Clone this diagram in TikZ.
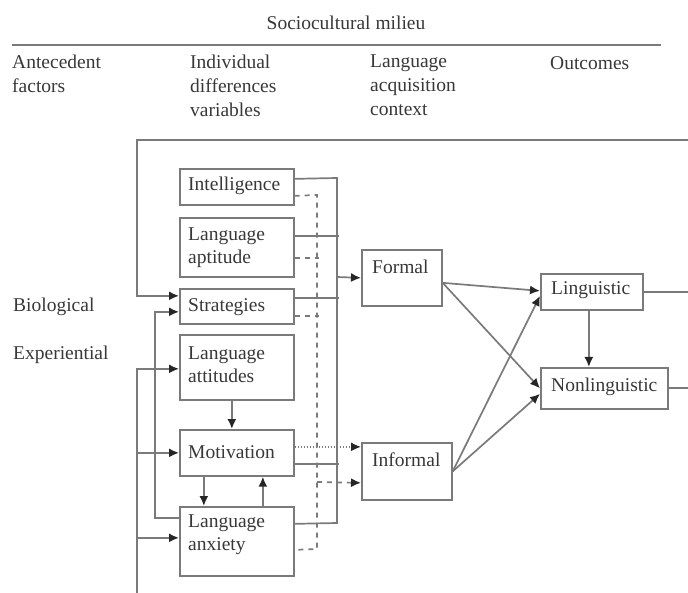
\documentclass[tikz,border=0pt]{standalone}
\usepackage{fontspec}
\setmainfont{Liberation Serif}
\usetikzlibrary{arrows.meta}
\begin{document}
\begin{tikzpicture}[x=1pt,y=-1pt,
  every node/.style={text=black!78, font=\fontsize{19.5}{23}\selectfont},
  ln/.style={draw=black!52, line width=1.7pt},
  bx/.style={draw=black!52, line width=1.7pt, inner sep=0pt, anchor=north west},
  tx/.style={inner sep=0pt, anchor=west},
  mtx/.style={inner sep=0pt, anchor=north west, align=left},
  htx/.style={inner sep=0pt, anchor=north west, align=left, font=\fontsize{19.5}{24}\selectfont},
  arr/.style={ln, -{Latex[length=10pt,width=9pt,fill=black!85,color=black!85]}},
  dsh/.style={ln, dash pattern=on 5pt off 5pt},
  dotl/.style={ln, dash pattern=on 1.5pt off 1.5pt},
]
\useasboundingbox (0,0) rectangle (688,593);

% header
\node[inner sep=0pt] (title) at (346,23) {Sociocultural milieu};
\coordinate (rL) at (12,45);
\coordinate (rR) at (661,45);
\draw[ln] (rL) -- (rR);
\node[htx] (antT) at (12,54.5) {Antecedent\\factors};
\node[htx] (idvT) at (190,54.5) {Individual\\differences\\variables};
\node[htx] (lacT) at (370,54.5) {Language\\acquisition\\context};
\node[tx] (outT) at (550,63) {Outcomes};

% left labels
\node[tx] (bioT) at (13,307) {Biological};
\node[tx] (expT) at (13,355) {Experiential};

% boxes
\node[bx, minimum width=114pt, minimum height=36pt] (intel) at (179,168) {};
\node[bx, minimum width=114pt, minimum height=59pt] (apt) at (179,217) {};
\node[bx, minimum width=114pt, minimum height=35pt] (strat) at (179,288) {};
\node[bx, minimum width=114pt, minimum height=65pt] (attit) at (179,334) {};
\node[bx, minimum width=114pt, minimum height=46pt] (motiv) at (179,429) {};
\node[bx, minimum width=114pt, minimum height=69pt] (anx) at (179,506) {};
\node[bx, minimum width=80pt, minimum height=56pt] (formal) at (361,249) {};
\node[bx, minimum width=90pt, minimum height=57pt] (informal) at (361,442) {};
\node[bx, minimum width=102pt, minimum height=36pt] (ling) at (540,273) {};
\node[bx, minimum width=127pt, minimum height=41pt] (nonling) at (540,367) {};

% box texts
\node[tx] (intelT) at (188,186) {Intelligence};
\node[mtx] (aptT) at (188,227.5) {Language\\aptitude};
\node[tx] (stratT) at (188,307) {Strategies};
\node[mtx] (attitT) at (188,346.5) {Language\\attitudes};
\node[tx] (motivT) at (188,452) {Motivation};
\node[mtx] (anxT) at (188,514.5) {Language\\anxiety};
\node[tx] (formalT) at (372,267) {Formal};
\node[tx] (informalT) at (372,460) {Informal};
\node[tx] (lingT) at (551,290) {Linguistic};
\node[tx] (nonlingT) at (551,387) {Nonlinguistic};

% outer frame feedback
\coordinate (frR) at (688,140);
\coordinate (frL) at (137,140);
\draw[arr] (frR) -- (frL) |- ([yshift=10.5pt]strat.west);

% anxiety -> strategies
\draw[arr] ([yshift=23.5pt]anx.west) -- ++(-24,0) |- ([yshift=-5.5pt]strat.west);

% lower outer bus
\coordinate (botL) at (137,593);
\draw[arr] (botL) |- ([yshift=-1.5pt]attit.west);
\draw[arr] (botL) |- (motiv.west);
\draw[arr] (botL) |- ([yshift=3.5pt]anx.west);

% solid collection bus
\coordinate (bsTop) at (337,178);
\coordinate (bsBot) at (337,523);
\coordinate (bsF) at (337,277);
\draw[ln] ([yshift=8pt]intel.east) -- (bsTop) -- (bsBot) -- ([yshift=17.5pt]anx.east);
\draw[ln] ([yshift=11.5pt]apt.east) -- ++(44,0);
\draw[ln] ([yshift=8.5pt]strat.east) -- ++(44,0);
\draw[ln] ([yshift=-11pt]motiv.east) -- ++(44,0);
\draw[arr] (bsF) -- (formal.west);

% dashed bus
\coordinate (bdTop) at (317,195);
\coordinate (bdBot) at (317,549);
\coordinate (bdI) at (317,482);
\draw[dsh] ([yshift=-9pt]intel.east) -- (bdTop) -- (bdBot) -- ([yshift=-8.5pt]anx.east);
\draw[dsh] ([yshift=-10.5pt]apt.east) -- ++(24,0);
\draw[dsh] ([yshift=-9.5pt]strat.east) -- ++(24,0);
\draw[arr, dsh] (bdI) -- ([yshift=-11.5pt]informal.west);

% dotted motivation -> informal
\draw[arr, dotl] ([yshift=6pt]motiv.east) -- ([yshift=6pt]motiv.east -| informal.west);

% within column
\draw[arr] ([xshift=-5pt]attit.south) -- ([xshift=-5pt]motiv.north);
\draw[arr] ([xshift=-33pt]motiv.south) -- ([xshift=-33pt]anx.north);
\draw[arr] ([xshift=26pt]anx.north) -- ([xshift=26pt]motiv.south);

% context -> outcomes
\draw[arr] ([yshift=-5pt]formal.east) -- ([yshift=1pt]ling.west);
\draw[arr] ([yshift=-5pt]formal.east) -- (nonling.west);
\draw[arr] (informal.east) -- ([yshift=-4pt]ling.west);
\draw[arr] (informal.east) -- ([yshift=-5.5pt]nonling.west);
\draw[arr] ([xshift=-3pt]ling.south) -- ([xshift=-3pt]ling.south |- nonling.north);

% outcome outputs
\coordinate (oL) at (688,291);
\coordinate (oN) at (688,387.5);
\draw[ln] (ling.east) -- (ling.east -| oL);
\draw[ln] (nonling.east) -- (nonling.east -| oN);
\end{tikzpicture}
\end{document}
